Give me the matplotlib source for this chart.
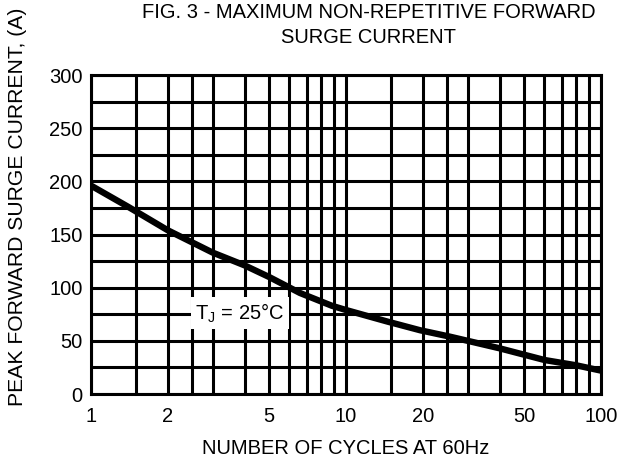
import matplotlib
matplotlib.use("Agg")
import matplotlib.pyplot as plt
from matplotlib.ticker import FixedLocator, FixedFormatter, NullLocator

plt.rcParams['font.family'] = ['Liberation Sans', 'DejaVu Sans']

# Surge current curve (T_J = 25 C)
cycles = [1, 1.4, 2, 3, 4, 5, 6.6, 8.8, 10, 14.6, 19.5, 25.5, 40, 60, 80, 100]
current = [196, 176, 154, 133, 121, 110, 95, 83, 79, 68, 60, 54, 43, 32, 27, 22]

# Grid and tick definitions
x_grid = [1, 1.5, 2, 2.5, 3, 4, 5, 6, 7, 8, 9, 10,
          15, 20, 25, 30, 40, 50, 60, 70, 80, 90, 100]
x_ticks = [1, 2, 5, 10, 20, 50, 100]
x_ticklabels = ['1', '2', '5', '10', '20', '50', '100']
y_grid = list(range(0, 301, 25))
y_ticks = list(range(0, 301, 50))
y_ticklabels = [str(v) for v in y_ticks]

FS = 14.5

fig = plt.figure(figsize=(6.25, 4.61), dpi=100)
ax = fig.add_axes([0.1456, 0.1453, 0.816, 0.692])

ax.set_xscale('log')
ax.set_xlim(1, 100)
ax.set_ylim(0, 300)

for xv in x_grid:
    ax.axvline(xv, color='black', lw=2.2, zorder=1)
for yv in y_grid:
    ax.axhline(yv, color='black', lw=2.2, zorder=1)

ax.plot(cycles, current, color='black', lw=4.6, solid_capstyle='butt',
        solid_joinstyle='round', zorder=3)

ax.xaxis.set_major_locator(FixedLocator(x_ticks))
ax.xaxis.set_major_formatter(FixedFormatter(x_ticklabels))
ax.xaxis.set_minor_locator(NullLocator())
ax.yaxis.set_major_locator(FixedLocator(y_ticks))
ax.yaxis.set_major_formatter(FixedFormatter(y_ticklabels))
ax.tick_params(axis='both', length=0, labelsize=FS, colors='black')
ax.tick_params(axis='x', pad=9)
ax.tick_params(axis='y', pad=6)

for sp in ax.spines.values():
    sp.set_linewidth(2.2)
    sp.set_color('black')

ax.text(3.84, 76, r'T$_\mathregular{J}$ = 25°C', fontsize=FS,
        ha='center', va='center', zorder=4,
        bbox=dict(facecolor='white', edgecolor='none', pad=3))

ax.set_xlabel('NUMBER OF CYCLES AT 60Hz', fontsize=FS, labelpad=10)
ax.set_ylabel('PEAK FORWARD SURGE CURRENT, (A)', fontsize=15.2)
ax.yaxis.set_label_coords(-0.126, 0.586)
fig.text(0.59, 0.993, 'FIG. 3 - MAXIMUM NON-REPETITIVE FORWARD\nSURGE CURRENT',
         ha='center', va='top', fontsize=FS, linespacing=1.4)

fig.savefig('out.png', dpi=100, facecolor='white')
